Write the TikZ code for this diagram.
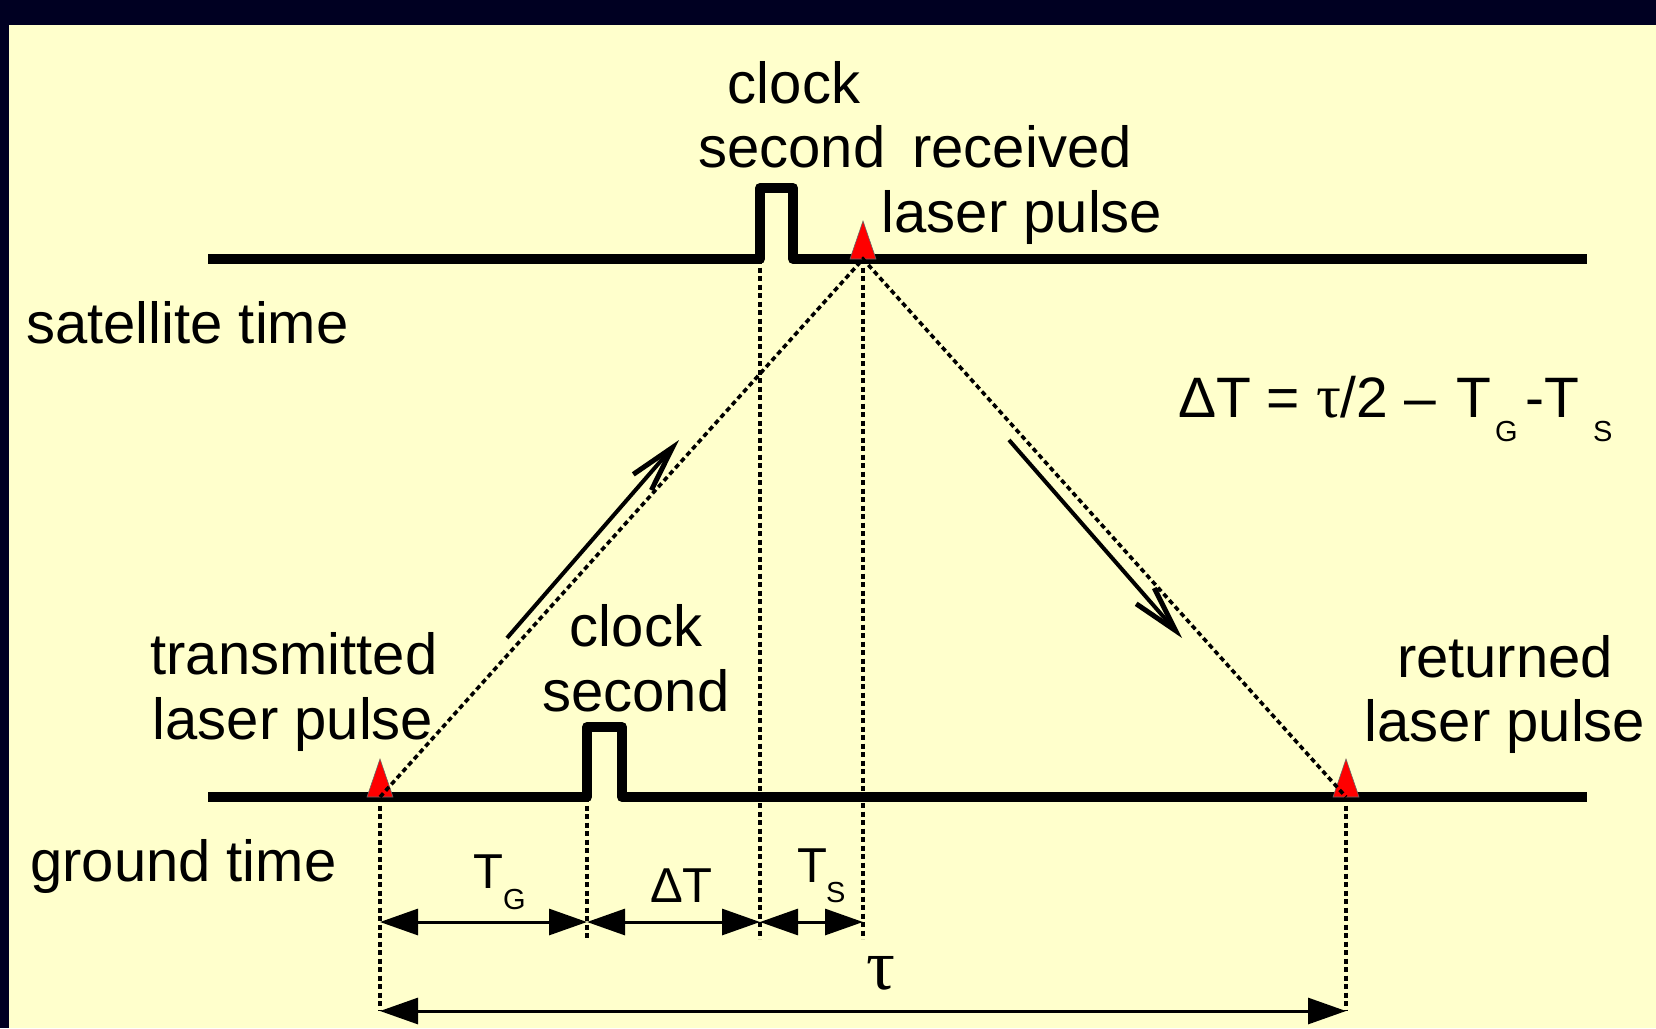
\documentclass[tikz,border=0pt]{standalone}
\usepackage{fontspec}
\setmainfont{Liberation Sans}
\newfontfamily\greekserif{Liberation Serif}
\usetikzlibrary{arrows.meta}
\definecolor{bgyellow}{RGB}{255,255,204}
\definecolor{navyband}{RGB}{0,0,34}
\begin{document}
\begin{tikzpicture}[x=1pt,y=-1pt,
  lbl/.style={inner sep=0pt, font=\fontsize{58}{65}\selectfont, anchor=base},
  lblw/.style={lbl, anchor=base west},
  eqlbl/.style={inner sep=0pt, font=\fontsize{57}{60}\selectfont, anchor=base west},
  dimlbl/.style={inner sep=0pt, font=\fontsize{49}{55}\selectfont, anchor=base west},
  sublbl/.style={inner sep=0pt, font=\fontsize{29}{30}\selectfont, anchor=base west},
  timeline/.style={line width=10pt, line join=round},
  guide/.style={line width=3.6pt, dash pattern=on 5pt off 3.5pt},
  dimarrow/.style={line width=3pt, {Triangle[length=38pt,width=26pt]}-{Triangle[length=38pt,width=26pt]}},
  flow/.style={line width=4pt, -{Straight Barb[length=46pt,width=24pt,line width=5pt]}},
  redmark/.pic={\filldraw[fill=red, draw=black!60, line width=0.6pt] (-13,0) -- (0,-38) -- (13,0) -- cycle;}
]
% background
\useasboundingbox (0,0) rectangle (1656,1028);
\fill[bgyellow] (0,0) rectangle (1656,1028);
\fill[navyband] (0,0) rectangle (1656,25);
\fill[navyband] (0,0) rectangle (9,1028);

% key coordinates
\coordinate (satL) at (208,259);
\coordinate (satR) at (1587,259);
\coordinate (sp1) at (760,259);
\coordinate (sp2) at (793,259);
\coordinate (gndL) at (208,797);
\coordinate (gndR) at (1587,797);
\coordinate (gp1) at (587,797);
\coordinate (gp2) at (622,797);
\coordinate (tx) at (380,797);
\coordinate (rx) at (863,259);
\coordinate (ret) at (1346,797);

\coordinate (d0) at (380,922);
\coordinate (d1) at (587,922);
\coordinate (d2) at (760,922);
\coordinate (d3) at (863,922);
\coordinate (e1) at (587,939);
\coordinate (e2) at (760,939);
\coordinate (e3) at (863,939);
\coordinate (b0) at (380,1011);
\coordinate (b1) at (1346,1011);

\coordinate (up0) at (507,638);
\coordinate (up1) at (679,440);
\coordinate (dn0) at (1009,440);
\coordinate (dn1) at (1182,638);

% time lines with clock-second pulses
\draw[timeline] (satL) -- (sp1) -- (760,188) -- (793,188) -- (sp2) -- (satR);
\draw[timeline] (gndL) -- (gp1) -- (587,727) -- (622,727) -- (gp2) -- (gndR);

% guide lines
\draw[guide] (tx) -- (b0);
\draw[guide] (ret) -- (b1);
\draw[guide] (gp1) -- (e1);
\draw[guide] (sp1) -- (e2);
\draw[guide] (rx) -- (e3);

% laser pulse markers
\pic at (tx) {redmark};
\pic at (rx) {redmark};
\pic at (ret) {redmark};

% laser path
\draw[guide] (tx) -- (rx) -- (ret);

% flow arrows
\draw[flow] (up0) -- (up1);
\draw[flow] (dn0) -- (dn1);

% dimension arrows
\draw[dimarrow] (d0) -- (d1);
\draw[dimarrow] (d1) -- (d2);
\draw[dimarrow] (d2) -- (d3);
\draw[dimarrow] (b0) -- (b1);

% texts
\node[lbl] (clk1a) at (794,103) {clock};
\node[lbl] (clk1b) at (792,167) {second};
\node[lbl] (rcv1) at (1022,167) {received};
\node[lbl] (rcv2) at (1022,232) {laser pulse};
\node[lblw] (sat) at (26,343) {satellite time};
\node[lblw] (gnd) at (30,881) {ground time};
\node[lbl] (trn1) at (294,674) {transmitted};
\node[lbl] (trn2) at (293,739) {laser pulse};
\node[lbl] (clk2a) at (636,646) {clock};
\node[lbl] (clk2b) at (636,711) {second};
\node[lbl] (rtn1) at (1505,677) {returned};
\node[lbl] (rtn2) at (1505,741) {laser pulse};

% formula
\node[eqlbl] (eqA) at (1178,417) {ΔT = {\greekserif\fontsize{62}{62}\selectfont τ}/2 –};
\node[eqlbl] (eqT) at (1456,417) {T};
\node[sublbl] (eqG) at (1495,441) {G};
\node[eqlbl] (eqB) at (1525,417) {-T};
\node[sublbl] (eqS) at (1593,441) {S};

% dimension labels
\node[dimlbl] (tgT) at (473,888) {T};
\node[sublbl] (tgG) at (503,909) {G};
\node[dimlbl] (dT) at (650,902) {ΔT};
\node[dimlbl] (tsT) at (797,882) {T};
\node[sublbl] (tsS) at (826,902) {S};
\node[inner sep=0pt, font=\greekserif\fontsize{72}{72}\selectfont, anchor=base] (tau) at (881,989) {τ};
\end{tikzpicture}
\end{document}
